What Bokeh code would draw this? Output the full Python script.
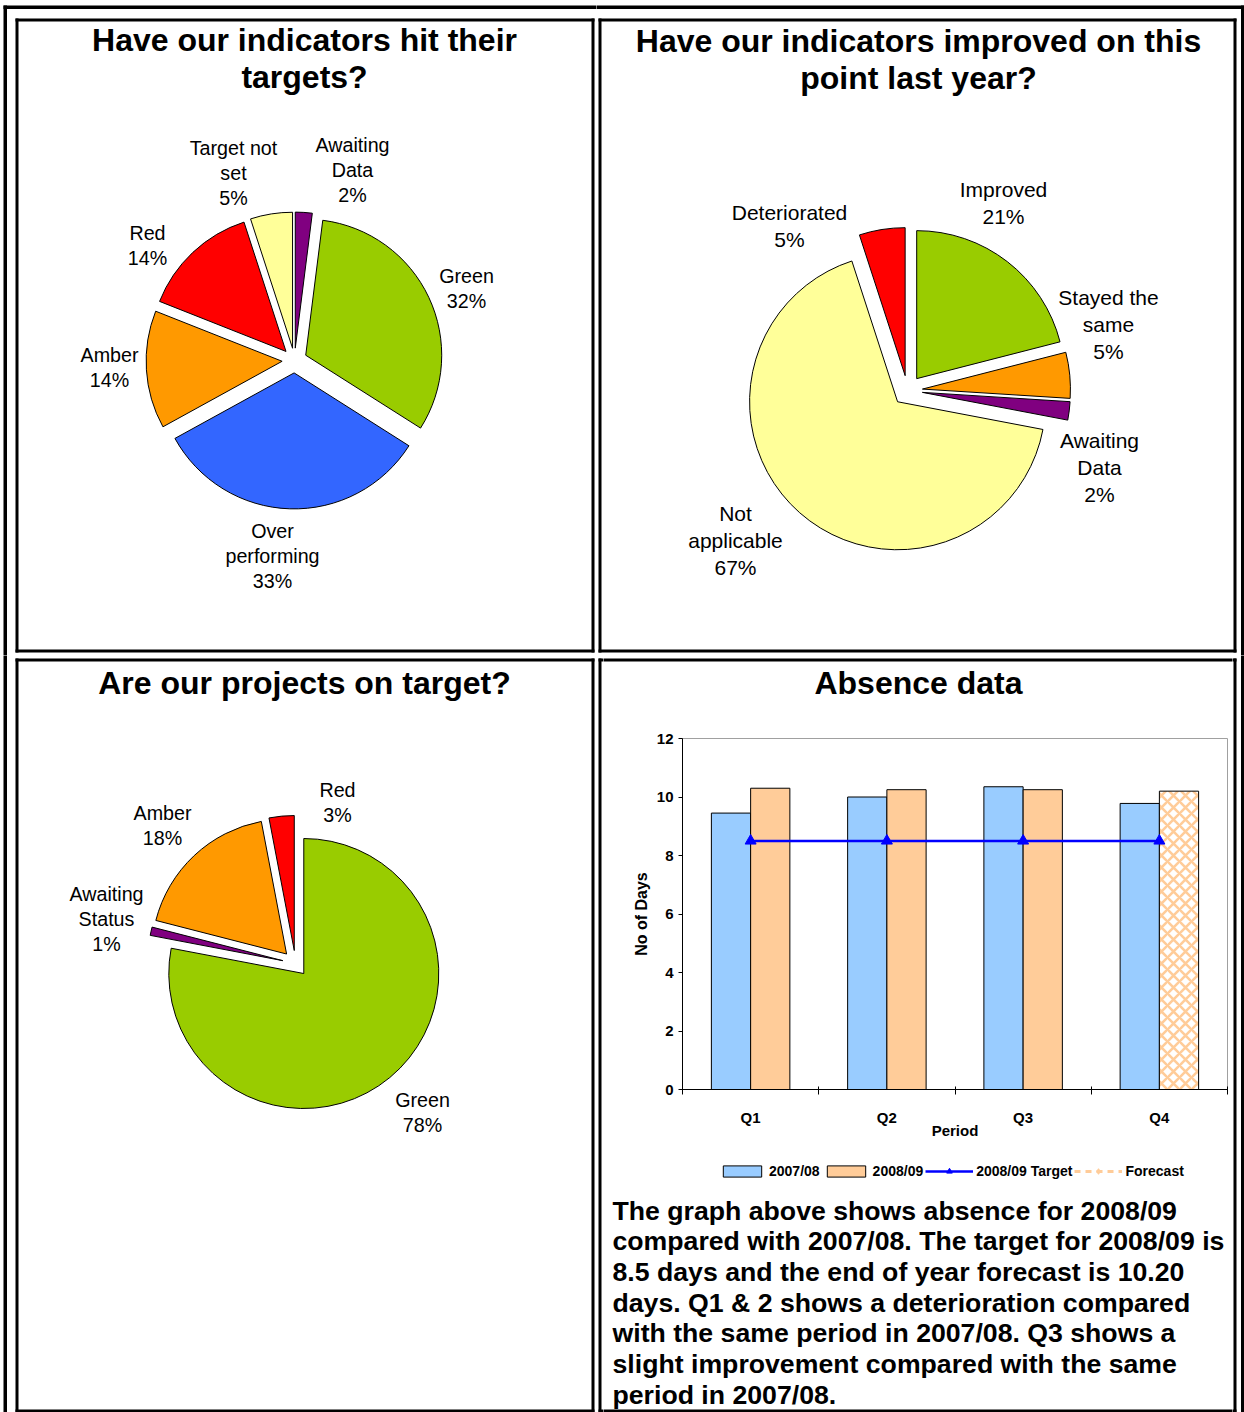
import math
from bokeh.plotting import figure
from bokeh.layouts import row, column
from bokeh.models import (Range1d, FixedTicker, Legend, LegendItem, ColumnDataSource)
from bokeh.core.properties import value
from bokeh.embed import file_html
from bokeh.resources import INLINE

# ---------------- data ----------------
hit_title = "Have our indicators hit their\ntargets?"
hit_labels = ["Awaiting\nData", "Green", "Over\nperforming", "Amber", "Red", "Target not\nset"]
hit_values = [2, 32, 33, 14, 14, 5]
hit_colors = ["#800080", "#99CC00", "#3366FF", "#FF9900", "#FF0000", "#FFFF99"]

imp_title = "Have our indicators improved on this\npoint last year?"
imp_labels = ["Improved", "Stayed the\nsame", "Awaiting\nData", "Not\napplicable", "Deteriorated"]
imp_values = [21, 5, 2, 67, 5]
imp_colors = ["#99CC00", "#FF9900", "#800080", "#FFFF99", "#FF0000"]

proj_title = "Are our projects on target?"
proj_labels = ["Green", "Awaiting\nStatus", "Amber", "Red"]
proj_values = [78, 1, 18, 3]
proj_colors = ["#99CC00", "#800080", "#FF9900", "#FF0000"]

abs_title = "Absence data"
periods = ["Q1", "Q2", "Q3", "Q4"]
absence_0708 = [9.45, 10.0, 10.35, 9.78]
absence_0809 = [10.3, 10.25, 10.25]      # Q1-Q3 actuals
forecast_0809 = [10.2]                    # Q4 forecast
target_0809 = [8.5, 8.5, 8.5, 8.5]
y_ticks = [0, 2, 4, 6, 8, 10, 12]
series_names = ["2007/08", "2008/09", "2008/09 Target", "Forecast"]

paragraph = [
    "The graph above shows absence for 2008/09",
    "compared with 2007/08. The target for 2008/09 is",
    "8.5 days and the end of year forecast is 10.20",
    "days. Q1 & 2 shows a deterioration compared",
    "with the same period in 2007/08. Q3 shows a",
    "slight improvement compared with the same",
    "period in 2007/08.",
]

# ---------------- layout constants (page pixels) ----------------
SANS = "Liberation Sans"
C07, C08, CT, CF = "#99CCFF", "#FFCC99", "#0000FF", "#FFCC99"

hit_label_xy = [(352, 169), (466, 287.5), (272, 555.5), (109, 366.5), (147, 244.5), (233, 172)]
imp_label_xy = [(1003, 202.5), (1108, 324), (1099, 467), (735, 539.5), (789, 225)]
proj_label_xy = [(422, 1111.5), (106, 918), (162, 824.5), (337, 801.5)]


def canvas(x0, y0, w, h):
    p = figure(width=w, height=h, x_range=Range1d(x0, x0 + w), y_range=Range1d(y0 + h, y0),
               output_backend="svg", toolbar_location=None, tools="",
               x_axis_location=None, y_axis_location=None, min_border=0,
               outline_line_color=None, background_fill_color="white",
               border_fill_color="white")
    p.grid.visible = False
    return p


def box(p, x0, y0, x1, y1, t):
    p.quad(left=[x0, x0, x0, x1 - t], right=[x1, x1, x0 + t, x1],
           top=[y0, y1 - t, y0, y0], bottom=[y0 + t, y1, y1, y1],
           fill_color="black", line_color=None)


def lines(p, x, yc, txt, size, lh, bold=False, align="center"):
    parts = txt.split("\n")
    n = len(parts)
    ys = [yc + (i - (n - 1) / 2) * lh for i in range(n)]
    p.text(x=[x] * n, y=ys, text=parts, text_font=value(SANS),
           text_font_size=f"{size}px", text_font_style="bold" if bold else "normal",
           text_align=align, text_baseline="middle", text_color="black")


def pie(p, cx, cy, r, d, vals, cols, labels, label_xy, fsize, lh):
    total = sum(vals)
    xs, ys, st, en = [], [], [], []
    a = 0.0
    for v in vals:
        a1 = a
        a2 = a + 360.0 * v / total
        m = math.radians((a1 + a2) / 2)
        xs.append(cx + d * math.sin(m))
        ys.append(cy - d * math.cos(m))
        st.append(math.radians(90 - a2))
        en.append(math.radians(90 - a1))
        a = a2
    src = ColumnDataSource(dict(x=xs, y=ys, s=st, e=en, c=cols))
    p.wedge(x="x", y="y", radius=r, start_angle="s", end_angle="e", fill_color="c",
            line_color="black", line_width=1, source=src)
    for lab, v, (lx, ly) in zip(labels, vals, label_xy):
        lines(p, lx, ly, f"{lab}\n{v}%", fsize, lh)


def outer(p):
    box(p, 3, 5, 1244, 1430, 3.5)


BR = (598, 658, 1236, 1412)

# ---------------- top-left ----------------
fa1 = canvas(0, 0, 596, 655)
outer(fa1)
box(fa1, 15, 18, 594, 652, 3)
lines(fa1, 304, 58, hit_title, 32, 36.5, bold=True)
pie(fa1, 294, 360, 136, 12.4, hit_values, hit_colors, hit_labels, hit_label_xy, 19.7, 25)

# ---------------- top-right ----------------
fa2 = canvas(596, 0, 648, 655)
outer(fa2)
box(fa2, 598, 18, 1236, 652, 3)
lines(fa2, 918, 58.5, imp_title, 32, 37, bold=True)
pie(fa2, 907, 390, 148, 15, imp_values, imp_colors, imp_labels, imp_label_xy, 21, 27)

# ---------------- bottom-left (also carries the left edge of bottom-right) ----------------
fb1 = canvas(0, 655, 603, 757)
outer(fb1)
box(fb1, 15, 658, 594, 1412, 3)
box(fb1, *BR, 3)
lines(fb1, 304, 682, proj_title, 32, 36, bold=True)
pie(fb1, 295, 963, 135, 13, proj_values, proj_colors, proj_labels, proj_label_xy, 19.7, 25)

# ---------------- bottom-right ----------------
fb2a = canvas(603, 655, 629, 50)
outer(fb2a)
box(fb2a, *BR, 3)
lines(fb2a, 918, 682, abs_title, 32, 36, bold=True)

stripR = canvas(1232, 655, 12, 757)
outer(stripR)
box(stripR, *BR, 3)

bar = figure(frame_width=545, frame_height=351,
             x_range=Range1d(0, len(periods)), y_range=Range1d(0, 12),
             output_backend="svg", toolbar_location=None, tools="",
             min_border_left=79, min_border_right=5, min_border_top=33,
             min_border_bottom=61,
             outline_line_color="#A0A0A0", outline_line_width=1,
             background_fill_color="white", border_fill_color="white")
bar.grid.visible = False

n = len(periods)
centers = [i + 0.5 for i in range(n)]
bw = 0.288
n08 = len(absence_0809)
s07 = ColumnDataSource(dict(x=[c - bw / 2 for c in centers], top=absence_0708))
s08 = ColumnDataSource(dict(x=[c + bw / 2 for c in centers[:n08]], top=absence_0809))
sfc = ColumnDataSource(dict(x=[c + bw / 2 for c in centers[n08:]], top=forecast_0809))
stg = ColumnDataSource(dict(x=centers, y=target_0809))

bar.vbar(x="x", top="top", bottom=0, width=bw, source=s07,
         fill_color=C07, line_color="black", line_width=1)
bar.vbar(x="x", top="top", bottom=0, width=bw, source=s08,
         fill_color=C08, line_color="black", line_width=1)
bar.vbar(x="x", top="top", bottom=0, width=bw, source=sfc,
         fill_color="white", line_color="black", line_width=1,
         hatch_pattern="diagonal_cross", hatch_color=CF, hatch_scale=12, hatch_weight=2.6)
bar.line(x="x", y="y", source=stg, line_color=CT, line_width=2.5)
bar.scatter(x="x", y="y", source=stg, marker="triangle", size=11,
            fill_color=CT, line_color=CT)

xa = bar.xaxis[0]
xa.ticker = FixedTicker(ticks=centers, minor_ticks=list(range(n + 1)))
xa.major_label_overrides = {c: lab for c, lab in zip(centers, periods)}
xa.major_tick_in = 0
xa.major_tick_out = 0
xa.minor_tick_in = 3
xa.minor_tick_out = 5
xa.minor_tick_line_color = "black"
xa.axis_line_color = "black"
xa.major_label_standoff = 14
xa.major_label_text_font = SANS
xa.major_label_text_font_style = "bold"
xa.major_label_text_font_size = "15px"
xa.major_label_text_color = "black"
xa.axis_label = "Period"
xa.axis_label_standoff = -7
xa.axis_label_text_font = SANS
xa.axis_label_text_font_style = "bold"
xa.axis_label_text_font_size = "15px"
xa.axis_label_text_color = "black"

ya = bar.yaxis[0]
ya.ticker = FixedTicker(ticks=y_ticks)
ya.major_tick_in = 0
ya.major_tick_out = 4
ya.minor_tick_line_color = None
ya.axis_line_color = "black"
ya.major_label_standoff = 5
ya.major_label_text_font = SANS
ya.major_label_text_font_style = "bold"
ya.major_label_text_font_size = "15px"
ya.major_label_text_color = "black"
ya.axis_label = "No of Days"
ya.axis_label_standoff = 4
ya.axis_label_text_font = SANS
ya.axis_label_text_font_style = "bold"
ya.axis_label_text_font_size = "16px"
ya.axis_label_text_color = "black"

# ---------------- legend + paragraph panel ----------------
PANEL_TOP = 1150
fb2c = canvas(603, PANEL_TOP, 629, 1412 - PANEL_TOP)
outer(fb2c)
box(fb2c, *BR, 3)

# legend keys: hidden renderers sharing the chart's sources, carrying the series styles
k07 = fb2c.vbar(x="x", top="top", width=bw, source=s07, fill_color=C07,
                line_color="black", line_width=1, visible=False)
k08 = fb2c.vbar(x="x", top="top", width=bw, source=s08, fill_color=C08,
                line_color="black", line_width=1, visible=False)
ktl = fb2c.line(x="x", y="y", source=stg, line_color=CT, line_width=2.5, visible=False)
ktp = fb2c.scatter(x="x", y="y", source=stg, marker="triangle", fill_color=CT,
                   line_color=CT, visible=False)
kfl = fb2c.line(x="x", y="top", source=sfc, line_color=CF, line_width=3, line_dash="6 5",
                visible=False)
kfp = fb2c.scatter(x="x", y="top", source=sfc, marker="diamond", fill_color=CF,
                   line_color=CF, visible=False)

leg = Legend(items=[LegendItem(label=series_names[0], renderers=[k07]),
                    LegendItem(label=series_names[1], renderers=[k08]),
                    LegendItem(label=series_names[2], renderers=[ktl, ktp]),
                    LegendItem(label=series_names[3], renderers=[kfl, kfp])],
             orientation="horizontal", location=(718 - 603, 1412 - 1179),
             border_line_color=None, background_fill_alpha=0,
             inactive_fill_alpha=0,
             label_text_font=SANS, label_text_font_style="bold",
             label_text_font_size="14px", label_text_color="black",
             label_height=16, glyph_width=48, glyph_height=14, label_standoff=3, spacing=2,
             padding=0, margin=0)
fb2c.add_layout(leg)

for i, ln in enumerate(paragraph):
    fb2c.text(x=[612], y=[1210 + i * 30.7], text=[ln], text_font=value(SANS),
              text_font_size="26.67px", text_font_style="bold", text_align="left",
              text_baseline="middle", text_color="black")

br = column(fb2a, row(bar), fb2c)
layout = column(row(fa1, fa2), row(fb1, br, stripR))

open("out.html", "w").write(file_html(layout, INLINE))
